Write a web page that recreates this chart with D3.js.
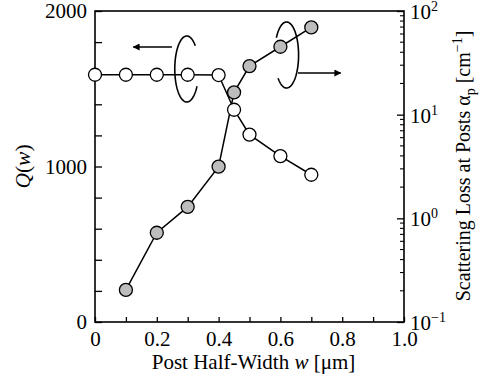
<!DOCTYPE html>
<html lang="en">
<head>
<meta charset="utf-8">
<title>Q and scattering loss vs post half-width</title>
<script src="https://cdn.jsdelivr.net/npm/d3@7"></script>
<style>
	body { margin: 0; background: #fff; }
	svg text { font-family: "Liberation Serif", "Times New Roman", serif; fill: #000; }
</style>
</head>
<body>
<div id="chart"></div>
<script>
// values
var qWidths = [0, 0.1, 0.2, 0.3, 0.4, 0.45, 0.5, 0.6, 0.7]
var qValues = [1590, 1590, 1590, 1590, 1588, 1365, 1205, 1067, 947]
var lossWidths = [0.1, 0.2, 0.3, 0.4, 0.45, 0.5, 0.6, 0.7]
var lossValues = [0.204, 0.726, 1.29, 3.15, 16.4, 29.4, 45.2, 69.5]
var xTicks = [0, 0.1, 0.2, 0.3, 0.4, 0.5, 0.6, 0.7, 0.8, 0.9, 1.0]
var qTicks = [0, 200, 400, 600, 800, 1000, 1200, 1400, 1600, 1800, 2000]
var lossDecades = [0.1, 1, 10, 100]

var W = 484, H = 384
// plot box (window.top is reserved, so no bare "top")
var pL = 95, pR = 404, pT = 11, pB = 322

var svg = d3.select("#chart").append("svg")
	.attr("width", W).attr("height", H)

var x = d3.scaleLinear().domain([0, 1]).range([pL, pR])
var yQ = d3.scaleLinear().domain([0, 2000]).range([pB, pT])
var yA = d3.scaleLog().domain([0.1, 100]).range([pB, pT])

// bottom axis
var xAxis = d3.axisBottom(x).tickValues(xTicks).tickSize(-5).tickPadding(9)
	.tickFormat(function(d){
		var i = Math.round(d * 10)
		if (i % 2) return ""
		return i == 0 ? "0" : d3.format(".1f")(d)
	})
svg.append("g").attr("transform", "translate(0," + pB + ")").call(xAxis)

// left axis
var qAxis = d3.axisLeft(yQ).tickValues(qTicks).tickSize(-7).tickPadding(8)
	.tickFormat(function(d){ return d % 1000 == 0 ? d : "" })
svg.append("g").attr("transform", "translate(" + pL + ",0)").call(qAxis)

// right axis (log)
var aAxis = d3.axisRight(yA).tickValues(lossDecades).tickSize(-7).tickPadding(6)
	.tickFormat(function(){ return "" })
var ag = svg.append("g").attr("transform", "translate(" + pR + ",0)").call(aAxis)

var minor = []
for (var d = 0; d < 3; d++) {
	for (var m = 2; m < 10; m++) minor.push(lossDecades[d] * m)
}
ag.selectAll(".minor").data(minor).enter().append("line")
	.attr("class", "minor")
	.attr("x1", 0).attr("x2", -4)
	.attr("y1", function(d){ return yA(d) }).attr("y2", function(d){ return yA(d) })
	.attr("stroke", "#000")

ag.selectAll(".dec").data(lossDecades).enter().append("text")
	.attr("class", "dec")
	.attr("x", 6)
	.attr("y", function(d){ return yA(d) + 8 })
	.attr("font-size", 21)
	.each(function(d){
		var t = d3.select(this)
		t.append("tspan").text("10")
		var e = Math.round(Math.log10(d))
		t.append("tspan").attr("dy", -8).attr("font-size", 14)
			.text(e < 0 ? "\u2212" + (-e) : e)
	})

svg.selectAll(".domain").remove()
svg.selectAll(".tick line").attr("stroke", "#000").attr("stroke-width", 1.3)
svg.selectAll(".tick text").attr("font-size", 21).attr("fill", "#000")
ag.selectAll(".minor").attr("stroke-width", 1.1)

// frame
svg.append("rect")
	.attr("x", pL).attr("y", pT)
	.attr("width", pR - pL).attr("height", pB - pT)
	.attr("fill", "none").attr("stroke", "#000").attr("stroke-width", 1.6)

// loss series (filled)
var lossPts = lossWidths.map(function(w, i){ return [x(w), yA(lossValues[i])] })
svg.append("path").attr("d", d3.line()(lossPts))
	.attr("fill", "none").attr("stroke", "#000").attr("stroke-width", 1.5)
svg.selectAll(".lp").data(lossPts).enter().append("circle")
	.attr("class", "lp")
	.attr("cx", function(d){ return d[0] }).attr("cy", function(d){ return d[1] })
	.attr("r", 6.5).attr("fill", "#bdbdbd").attr("stroke", "#000").attr("stroke-width", 1.3)

// Q series (open)
var qPts = qWidths.map(function(w, i){ return [x(w), yQ(qValues[i])] })
svg.append("path").attr("d", d3.line()(qPts))
	.attr("fill", "none").attr("stroke", "#000").attr("stroke-width", 1.5)
svg.selectAll(".qp").data(qPts).enter().append("circle")
	.attr("class", "qp")
	.attr("cx", function(d){ return d[0] }).attr("cy", function(d){ return d[1] })
	.attr("r", 6.5).attr("fill", "#fff").attr("stroke", "#000").attr("stroke-width", 1.3)

// ellipse markers with arrows
function ellipse(cx, cy, rx, ry, a0, a1) {
	var pts = d3.range(a0, a1 + 0.001, 0.05).map(function(a){
		return [cx + rx * Math.cos(a), cy + ry * Math.sin(a)]
	})
	svg.append("path").attr("d", d3.line()(pts))
		.attr("fill", "none").attr("stroke", "#000").attr("stroke-width", 1.6)
}
// left one: gap on right side
ellipse(x(0.297), 69, 12, 33, 0.55, 2 * Math.PI - 0.75)
// right one: gap on left side
ellipse(x(0.62), 55, 12, 33, -Math.PI + 0.55, Math.PI - 0.75)

svg.append("defs").append("marker")
	.attr("id", "ah").attr("viewBox", "0 0 10 10")
	.attr("refX", 9).attr("refY", 5)
	.attr("markerWidth", 15).attr("markerHeight", 7)
	.attr("markerUnits", "userSpaceOnUse")
	.attr("orient", "auto")
	.append("path").attr("d", "M0,0L10,5L0,10Z").attr("fill", "#000")

svg.append("line")
	.attr("x1", x(0.249)).attr("x2", x(0.124))
	.attr("y1", 47).attr("y2", 47)
	.attr("stroke", "#000").attr("stroke-width", 1.4).attr("marker-end", "url(#ah)")
svg.append("line")
	.attr("x1", x(0.657)).attr("x2", x(0.795))
	.attr("y1", 73).attr("y2", 73)
	.attr("stroke", "#000").attr("stroke-width", 1.4).attr("marker-end", "url(#ah)")

// axis titles
var xt = svg.append("text").attr("x", (pL + pR) / 2 + 4).attr("y", 369)
	.attr("text-anchor", "middle").attr("font-size", 21)
xt.append("tspan").text("Post Half-Width ")
xt.append("tspan").attr("font-style", "italic").text("w")
xt.append("tspan").text(" [\u03bcm]")

var yt = svg.append("text")
	.attr("transform", "translate(30," + ((pT + pB) / 2) + ") rotate(-90)")
	.attr("text-anchor", "middle").attr("font-size", 21.5)
yt.append("tspan").attr("font-style", "italic").text("Q")
yt.append("tspan").text("(")
yt.append("tspan").attr("font-style", "italic").text("w")
yt.append("tspan").text(")")

var rt = svg.append("text")
	.attr("transform", "translate(470," + 166 + ") rotate(-90)")
	.attr("text-anchor", "middle").attr("font-size", 20)
rt.append("tspan").text("Scattering Loss at Posts \u03b1")
rt.append("tspan").attr("dy", 5).attr("font-size", 14).text("p")
rt.append("tspan").attr("dy", -5).text(" [cm")
rt.append("tspan").attr("dy", -8).attr("font-size", 14).text("\u22121")
rt.append("tspan").attr("dy", 8).text("]")
</script>
</body>
</html>
